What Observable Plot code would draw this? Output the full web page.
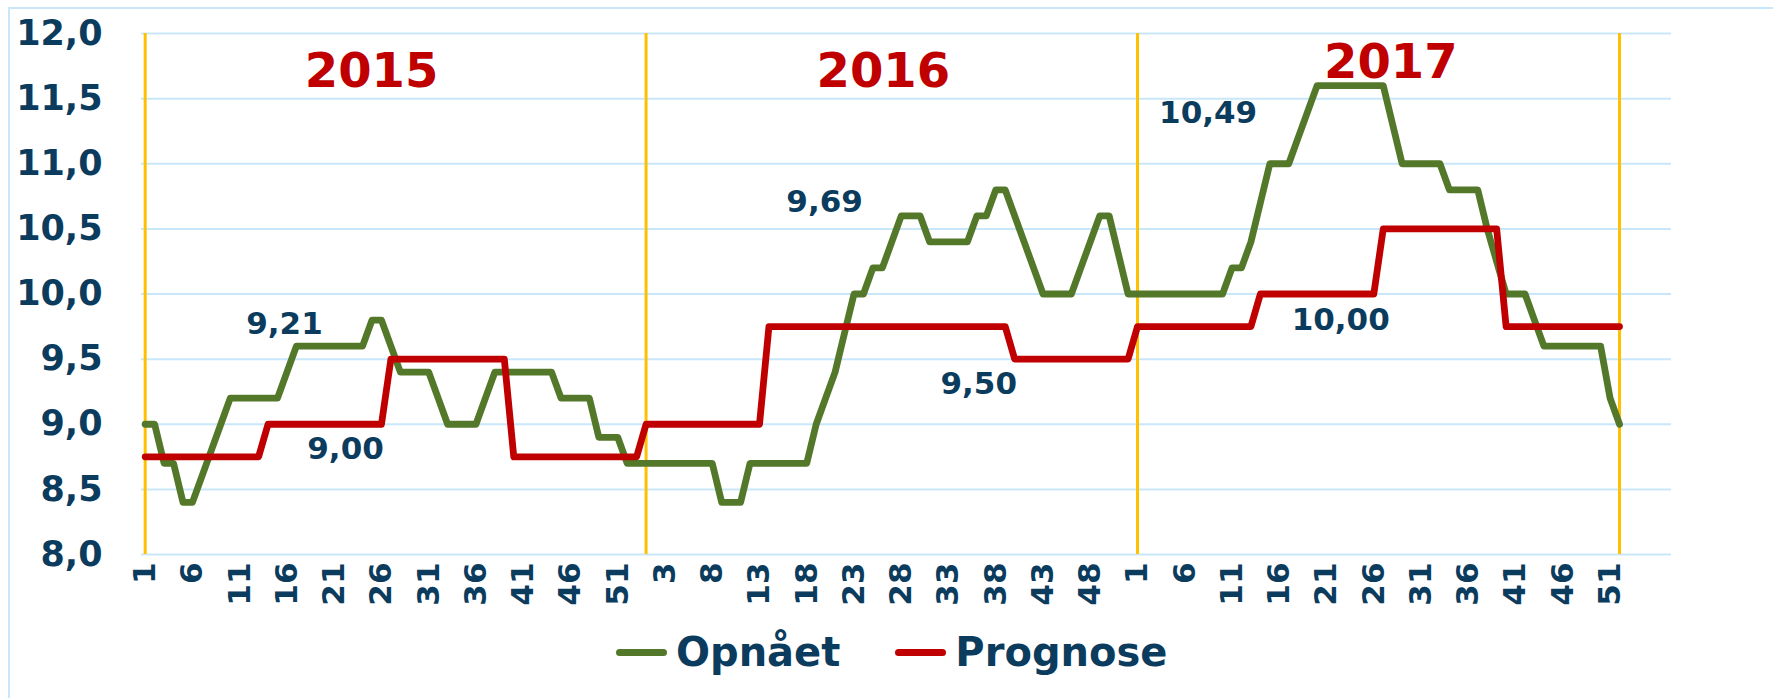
<!DOCTYPE html>
<html>
<head>
<meta charset="utf-8">
<script src="https://cdn.jsdelivr.net/npm/d3@7"></script>
<script src="https://cdn.jsdelivr.net/npm/@observablehq/plot@0.6"></script>
<style>
  html, body { margin: 0; padding: 0; background: #ffffff; width: 1773px; height: 698px; overflow: hidden; }
  body { position: relative; font-family: "DejaVu Sans", Verdana, sans-serif; }
  #frame { position: absolute; left: 8px; top: 7px; width: 1820px; height: 740px;
           border-top: 2px solid #C9E7FA; border-left: 2px solid #C9E7FA; }
  #chart { position: absolute; left: 0; top: 0; }
  #legend { position: absolute; left: 616px; top: 630px; height: 44px; display: flex; align-items: center;
            font-family: "DejaVu Sans", Verdana, sans-serif; font-weight: bold; font-size: 40px; color: #0B3B5D; }
  #legend .sw { display: inline-block; width: 51px; height: 7px; border-radius: 4px; margin-right: 9px; }
</style>
</head>
<body>
<div id="frame"></div>
<div id="chart"></div>
<div id="legend"></div>
<script>
// ---------- data ----------
const years = [2015, 2016, 2017];

const opnaaet2015 = [9.0, 9.0, 8.7, 8.7, 8.4, 8.4, 8.6, 8.8, 9.0, 9.2,
                     9.2, 9.2, 9.2, 9.2, 9.2, 9.4, 9.6, 9.6, 9.6, 9.6,
                     9.6, 9.6, 9.6, 9.6, 9.8, 9.8, 9.6, 9.4, 9.4, 9.4,
                     9.4, 9.2, 9.0, 9.0, 9.0, 9.0, 9.2, 9.4, 9.4, 9.4,
                     9.4, 9.4, 9.4, 9.4, 9.2, 9.2, 9.2, 9.2, 8.9, 8.9,
                     8.9, 8.7, 8.7];
const prognose2015 = [8.75, 8.75, 8.75, 8.75, 8.75, 8.75, 8.75, 8.75, 8.75, 8.75,
                      8.75, 8.75, 8.75, 9.0, 9.0, 9.0, 9.0, 9.0, 9.0, 9.0,
                      9.0, 9.0, 9.0, 9.0, 9.0, 9.0, 9.5, 9.5, 9.5, 9.5,
                      9.5, 9.5, 9.5, 9.5, 9.5, 9.5, 9.5, 9.5, 9.5, 8.75,
                      8.75, 8.75, 8.75, 8.75, 8.75, 8.75, 8.75, 8.75, 8.75, 8.75,
                      8.75, 8.75, 8.75];

const opnaaet2016 = [8.7, 8.7, 8.7, 8.7, 8.7, 8.7, 8.7, 8.7, 8.4, 8.4,
                     8.4, 8.7, 8.7, 8.7, 8.7, 8.7, 8.7, 8.7, 9.0, 9.2,
                     9.4, 9.7, 10.0, 10.0, 10.2, 10.2, 10.4, 10.6, 10.6, 10.6,
                     10.4, 10.4, 10.4, 10.4, 10.4, 10.6, 10.6, 10.8, 10.8, 10.6,
                     10.4, 10.2, 10.0, 10.0, 10.0, 10.0, 10.2, 10.4, 10.6, 10.6,
                     10.3, 10.0];
const prognose2016 = [9.0, 9.0, 9.0, 9.0, 9.0, 9.0, 9.0, 9.0, 9.0, 9.0,
                      9.0, 9.0, 9.0, 9.75, 9.75, 9.75, 9.75, 9.75, 9.75, 9.75,
                      9.75, 9.75, 9.75, 9.75, 9.75, 9.75, 9.75, 9.75, 9.75, 9.75,
                      9.75, 9.75, 9.75, 9.75, 9.75, 9.75, 9.75, 9.75, 9.75, 9.5,
                      9.5, 9.5, 9.5, 9.5, 9.5, 9.5, 9.5, 9.5, 9.5, 9.5,
                      9.5, 9.5];

const opnaaet2017 = [10.0, 10.0, 10.0, 10.0, 10.0, 10.0, 10.0, 10.0, 10.0, 10.0,
                     10.2, 10.2, 10.4, 10.7, 11.0, 11.0, 11.0, 11.2, 11.4, 11.6,
                     11.6, 11.6, 11.6, 11.6, 11.6, 11.6, 11.6, 11.3, 11.0, 11.0,
                     11.0, 11.0, 11.0, 10.8, 10.8, 10.8, 10.8, 10.5, 10.25, 10.0,
                     10.0, 10.0, 9.8, 9.6, 9.6, 9.6, 9.6, 9.6, 9.6, 9.6,
                     9.2, 9.0];
const prognose2017 = [9.75, 9.75, 9.75, 9.75, 9.75, 9.75, 9.75, 9.75, 9.75, 9.75,
                      9.75, 9.75, 9.75, 10.0, 10.0, 10.0, 10.0, 10.0, 10.0, 10.0,
                      10.0, 10.0, 10.0, 10.0, 10.0, 10.0, 10.5, 10.5, 10.5, 10.5,
                      10.5, 10.5, 10.5, 10.5, 10.5, 10.5, 10.5, 10.5, 10.5, 9.75,
                      9.75, 9.75, 9.75, 9.75, 9.75, 9.75, 9.75, 9.75, 9.75, 9.75,
                      9.75, 9.75];

const seriesNames = ["Opnået", "Prognose"];
const seriesColors = ["#54782A", "#C00000"];

const yTicks = [8.0, 8.5, 9.0, 9.5, 10.0, 10.5, 11.0, 11.5, 12.0];

// x tick labels (every fifth week) as [year, week]
const xTickLabels = [
  [2015, 1], [2015, 6], [2015, 11], [2015, 16], [2015, 21], [2015, 26], [2015, 31], [2015, 36], [2015, 41], [2015, 46], [2015, 51],
  [2016, 3], [2016, 8], [2016, 13], [2016, 18], [2016, 23], [2016, 28], [2016, 33], [2016, 38], [2016, 43], [2016, 48],
  [2017, 1], [2017, 6], [2017, 11], [2017, 16], [2017, 21], [2017, 26], [2017, 31], [2017, 36], [2017, 41], [2017, 46], [2017, 51]
];

// yellow year separators at [year, week]
const yearMarkers = [[2015, 1], [2016, 1], [2017, 1], [2017, 52]];

// year titles: [text, year, week position, value position]
const yearTitles = [["2015", 2015, 24.95, 11.71], ["2016", 2016, 26.1, 11.71], ["2017", 2017, 27.8, 11.78]];

// average annotations: [text, year, week position, value position]
const avgLabels = [
  ["9,21", 2015, 15.74, 9.77],
  ["9,00", 2015, 22.2, 8.81],
  ["9,69", 2016, 19.89, 10.705],
  ["9,50", 2016, 36.2, 9.31],
  ["10,49", 2017, 8.47, 11.39],
  ["10,00", 2017, 22.5, 9.80]
];

// ---------- build table ----------
const opn = [opnaaet2015, opnaaet2016, opnaaet2017];
const prog = [prognose2015, prognose2016, prognose2017];
const yearOffset = new Map();
let off = 0;
years.forEach((y, k) => { yearOffset.set(y, off); off += opn[k].length; });
const pos = (year, week) => yearOffset.get(year) + week - 1;

const rows = [];
years.forEach((y, k) => {
  opn[k].forEach((v, i) => rows.push({series: seriesNames[0], idx: pos(y, i + 1), value: v}));
});
years.forEach((y, k) => {
  prog[k].forEach((v, i) => rows.push({series: seriesNames[1], idx: pos(y, i + 1), value: v}));
});

const tickIdx = xTickLabels.map(([y, w]) => pos(y, w));
const tickText = new Map(xTickLabels.map(([y, w]) => [pos(y, w), String(w)]));

const navy = "#0B3B5D";
const gridColor = "#C9E7FA";

const chart = Plot.plot({
  width: 1773,
  height: 620,
  marginLeft: 141,
  marginRight: 102,
  marginTop: 33,
  marginBottom: 66,
  x: {type: "linear", domain: [-0.39, 161.5], label: null},
  y: {domain: [8, 12], label: null},
  style: {fontFamily: "DejaVu Sans, Verdana, sans-serif", color: navy, background: "transparent", overflow: "visible"},
  marks: [
    Plot.ruleY(yTicks, {y: d => d, stroke: gridColor, strokeWidth: 2}),
    Plot.ruleX(yearMarkers, {x: d => pos(d[0], d[1]), y1: 8, y2: 12, stroke: "#FFC000", strokeWidth: 3}),
    Plot.axisY(yTicks, {tickFormat: d => d.toFixed(1).replace(".", ","), tickSize: 0, tickPadding: 39,
                        fontSize: 35, fontWeight: "bold", fill: navy, label: null}),
    Plot.axisX(tickIdx, {tickFormat: d => tickText.get(d), tickRotate: -90, tickSize: 0, tickPadding: 8,
                         fontSize: 31, fontWeight: "bold", fill: navy, label: null}),
    Plot.line(rows.filter(d => d.series === seriesNames[0]), {x: "idx", y: "value", stroke: seriesColors[0],
              strokeWidth: 6.8, strokeLinejoin: "round", strokeLinecap: "round"}),
    Plot.line(rows.filter(d => d.series === seriesNames[1]), {x: "idx", y: "value", stroke: seriesColors[1],
              strokeWidth: 6.8, strokeLinejoin: "round", strokeLinecap: "round"}),
    Plot.text(yearTitles, {x: d => pos(d[1], 1) + d[2] - 1, y: d => d[3], text: d => d[0],
              fill: "#C00000", fontSize: 48, fontWeight: "bold", textAnchor: "middle", lineAnchor: "middle"}),
    Plot.text(avgLabels, {x: d => pos(d[1], 1) + d[2] - 1, y: d => d[3], text: d => d[0],
              fill: navy, fontSize: 31, fontWeight: "bold", textAnchor: "middle", lineAnchor: "middle"})
  ]
});
document.getElementById("chart").appendChild(chart);

// legend
const legend = document.getElementById("legend");
seriesNames.forEach((name, k) => {
  const sw = document.createElement("span");
  sw.className = "sw";
  sw.style.background = seriesColors[k];
  if (k > 0) sw.style.marginLeft = "55px";
  const t = document.createElement("span");
  t.textContent = name;
  legend.appendChild(sw);
  legend.appendChild(t);
});
</script>
</body>
</html>
